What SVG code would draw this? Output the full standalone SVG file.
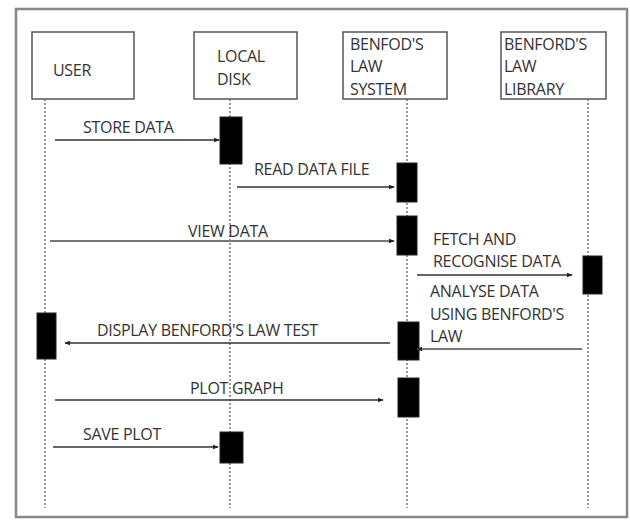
<svg xmlns="http://www.w3.org/2000/svg" width="630" height="520" viewBox="0 0 630 520">
<defs>
<marker id="ah" viewBox="0 0 8 8" refX="7" refY="4" markerWidth="6" markerHeight="6" orient="auto-start-reverse" markerUnits="userSpaceOnUse">
<path d="M0,1 L8,4 L0,7 z" fill="#222"/>
</marker>
<style>
.box{fill:#fff;stroke:#555;stroke-width:1.5}
.life{stroke:#777;stroke-width:1.5;stroke-dasharray:2 2}
.act{fill:#000;stroke:#222;stroke-width:1}
.msg{stroke:#333;stroke-width:1.5;fill:none;marker-end:url(#ah)}
.msgg{stroke:#777;stroke-width:2;fill:none;marker-end:url(#ah)}
text{font-family:"Open Sans","Liberation Sans",sans-serif;font-size:16px;fill:#333;letter-spacing:-0.3px}
</style>
</defs>
<rect x="0" y="0" width="630" height="520" fill="#fff"/>
<rect x="16" y="9" width="611" height="508" fill="none" stroke="#888" stroke-width="2.5"/>

<g id="lifelines">
<line class="life" x1="45" y1="99" x2="45" y2="508"/>
<line class="life" x1="230" y1="99" x2="230" y2="508"/>
<line class="life" x1="407" y1="99" x2="407" y2="508"/>
<line class="life" x1="588" y1="99" x2="588" y2="508"/>
</g>

<g id="user">
<rect class="box" x="32" y="32" width="102" height="67"/>
<text x="53" y="76">USER</text>
</g>
<g id="localdisk">
<rect class="box" x="194" y="32" width="103" height="67"/>
<text x="217" y="62">LOCAL</text>
<text x="217" y="85">DISK</text>
</g>
<g id="system">
<rect class="box" x="343" y="32" width="104" height="67"/>
<text x="350" y="50">BENFOD'S</text>
<text x="350" y="72">LAW</text>
<text x="350" y="95">SYSTEM</text>
</g>
<g id="library">
<rect class="box" x="501" y="32" width="105" height="67"/>
<text x="504" y="50">BENFORD'S</text>
<text x="504" y="72">LAW</text>
<text x="504" y="95">LIBRARY</text>
</g>

<g id="activations">
<rect class="act" x="220" y="117" width="22" height="47"/>
<rect class="act" x="397" y="163" width="20" height="39"/>
<rect class="act" x="397" y="216" width="20" height="39"/>
<rect class="act" x="583" y="256" width="19" height="38"/>
<rect class="act" x="37" y="313" width="19" height="46"/>
<rect class="act" x="398" y="322" width="21" height="38"/>
<rect class="act" x="398" y="378" width="21" height="39"/>
<rect class="act" x="220" y="432" width="23" height="31"/>
</g>

<g id="connectors">
<line class="msg" x1="55" y1="140" x2="219" y2="140"/>
<text x="83" y="133">STORE DATA</text>
<line class="msg" x1="237" y1="187" x2="394" y2="187"/>
<text x="254" y="175">READ DATA FILE</text>
<line class="msgg" x1="50" y1="241" x2="394" y2="241"/>
<text x="188" y="237">VIEW DATA</text>
<line class="msg" x1="417" y1="275" x2="572" y2="275"/>
<text x="433" y="245">FETCH AND</text>
<text x="433" y="267">RECOGNISE DATA</text>
<line class="msgg" x1="582" y1="349" x2="417" y2="349"/>
<text x="430" y="297">ANALYSE DATA</text>
<text x="430" y="320">USING BENFORD'S</text>
<text x="430" y="342">LAW</text>
<line class="msg" x1="390" y1="343" x2="65" y2="343"/>
<text x="97" y="336">DISPLAY BENFORD'S LAW TEST</text>
<line class="msg" x1="55" y1="400" x2="383" y2="400"/>
<text x="190" y="394">PLOT GRAPH</text>
<line class="msg" x1="53" y1="447" x2="218" y2="447"/>
<text x="83" y="440">SAVE PLOT</text>
</g>
</svg>
